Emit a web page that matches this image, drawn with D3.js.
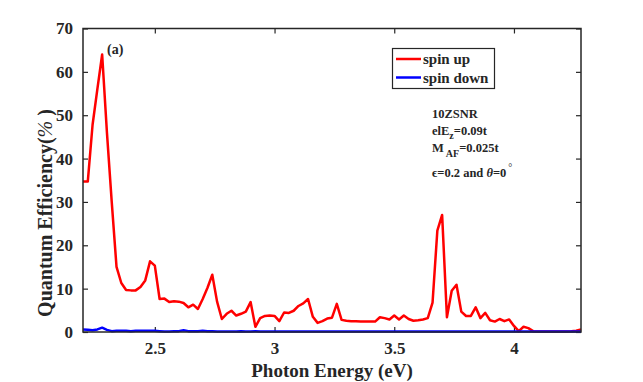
<!DOCTYPE html>
<html>
<head>
<meta charset="utf-8">
<script src="https://cdn.jsdelivr.net/npm/d3@7"></script>
<style>
  body { margin: 0; background: #fff; }
  text { font-family: "Liberation Serif", "Times New Roman", serif; font-weight: bold; fill: #262626; }
</style>
</head>
<body>
<script>
// photon energy grid (eV)
var energy = [2.20, 2.22, 2.24, 2.26, 2.28, 2.30, 2.32, 2.34, 2.36, 2.38,
  2.40, 2.42, 2.44, 2.46, 2.48, 2.50, 2.52, 2.54, 2.56, 2.58,
  2.60, 2.62, 2.64, 2.66, 2.68, 2.70, 2.72, 2.74, 2.76, 2.78,
  2.80, 2.82, 2.84, 2.86, 2.88, 2.90, 2.92, 2.94, 2.96, 2.98,
  3.00, 3.02, 3.04, 3.06, 3.08, 3.10, 3.12, 3.14, 3.16, 3.18,
  3.20, 3.22, 3.24, 3.26, 3.28, 3.30, 3.32, 3.34, 3.36, 3.38,
  3.40, 3.42, 3.44, 3.46, 3.48, 3.50, 3.52, 3.54, 3.56, 3.58,
  3.60, 3.62, 3.64, 3.66, 3.68, 3.70, 3.72, 3.74, 3.76, 3.78,
  3.80, 3.82, 3.84, 3.86, 3.88, 3.90, 3.92, 3.94, 3.96, 3.98,
  4.00, 4.02, 4.04, 4.06, 4.08, 4.10, 4.12, 4.14, 4.16, 4.18,
  4.20, 4.22, 4.24, 4.26, 4.28];

var spinUp = [34.7, 34.7, 47.8, 56, 64, 46, 30, 15, 11.3, 9.7,
  9.6, 9.6, 10.4, 11.9, 16.3, 15.3, 7.6, 7.7, 6.9, 7.1,
  7.0, 6.7, 5.7, 6.3, 5.3, 7.6, 10.2, 13.2, 7.0, 3.0,
  4.2, 4.9, 3.8, 4.2, 4.7, 6.9, 1.2, 3.2, 3.7, 3.8,
  3.7, 2.5, 4.5, 4.4, 4.9, 6.0, 6.6, 7.6, 3.5, 2.1,
  2.5, 3.1, 3.3, 6.5, 2.8, 2.6, 2.5, 2.5, 2.45, 2.4,
  2.4, 2.4, 3.4, 3.2, 2.9, 3.8, 2.9, 3.8, 3.0, 2.6,
  2.7, 2.9, 3.2, 6.8, 23.4, 27.0, 3.4, 9.5, 10.9, 4.7,
  3.7, 3.7, 5.7, 3.2, 4.4, 2.7, 2.4, 3.0, 2.5, 2.9,
  1.4, 0.2, 1.2, 0.9, 0.2, 0.1, 0.1, 0.1, 0.1, 0.1,
  0.1, 0.1, 0.15, 0.3, 0.6];

var spinDown = [0.6, 0.5, 0.4, 0.6, 1.0, 0.5, 0.2, 0.3, 0.3, 0.3,
  0.2, 0.3, 0.3, 0.3, 0.3, 0.3, 0.2, 0.1, 0.1, 0.2,
  0.2, 0.4, 0.2, 0.2, 0.2, 0.3, 0.2, 0.2, 0.1, 0.1,
  0.1, 0.1, 0.1, 0.2, 0.1, 0.1, 0.2, 0.1, 0.1, 0.1,
  0.1, 0.1, 0.1, 0.1, 0.1, 0.1, 0.1, 0.1, 0.1, 0.1,
  0.1, 0.1, 0.1, 0.1, 0.1, 0.1, 0.1, 0.1, 0.1, 0.1,
  0.1, 0.1, 0.1, 0.1, 0.1, 0.1, 0.1, 0.1, 0.1, 0.1,
  0.1, 0.1, 0.1, 0.1, 0.1, 0.1, 0.1, 0.1, 0.1, 0.1,
  0.1, 0.1, 0.1, 0.1, 0.1, 0.1, 0.1, 0.1, 0.1, 0.1,
  0.1, 0.1, 0.1, 0.1, 0.1, 0.1, 0.1, 0.1, 0.1, 0.1,
  0.1, 0.1, 0.1, 0.1, 0.1];

var xTicks = [2.5, 3, 3.5, 4];
var xTickLabels = ["2.5", "3", "3.5", "4"];
var yTicks = [0, 10, 20, 30, 40, 50, 60, 70];

var legendNames = ["spin up", "spin down"];
var legendColors = ["#ff0000", "#0000ff"];

var W = 643, H = 382;
var plotL = 83, plotR = 581, plotT = 28.5, plotB = 332;

var svg = d3.select("body").append("svg")
   .attr("width", W)
   .attr("height", H);

var x = d3.scaleLinear().domain([2.2, 4.28]).range([plotL, plotR]);
var y = d3.scaleLinear().domain([0, 70]).range([plotB, plotT]);

var axisColor = "#262626";

// axes (ticks point inwards, matlab style)
function styleAxis(g) {
  g.select(".domain").remove();
  g.selectAll(".tick line").attr("stroke", axisColor).attr("stroke-width", 1.2);
  g.selectAll(".tick text").style("font-size", "17px").attr("fill", axisColor);
}

svg.append("g")
  .attr("transform", "translate(0," + plotB + ")")
  .call(d3.axisBottom(x).tickValues(xTicks).tickSize(-5).tickPadding(10)
    .tickFormat(function(d, i) { return xTickLabels[i]; }))
  .call(styleAxis);

svg.append("g")
  .attr("transform", "translate(0," + plotT + ")")
  .call(d3.axisTop(x).tickValues(xTicks).tickSize(-5).tickFormat(""))
  .call(styleAxis);

svg.append("g")
  .attr("transform", "translate(" + plotL + ",0)")
  .call(d3.axisLeft(y).tickValues(yTicks).tickSize(-5).tickPadding(10))
  .call(styleAxis);

svg.append("g")
  .attr("transform", "translate(" + plotR + ",0)")
  .call(d3.axisRight(y).tickValues(yTicks).tickSize(-5).tickFormat(""))
  .call(styleAxis);

// curves
var upData = energy.map(function(e, i) { return [e, spinUp[i]]; });
var downData = energy.map(function(e, i) { return [e, spinDown[i]]; });

var line = d3.line()
  .x(function(d) { return x(d[0]); })
  .y(function(d) { return y(d[1]); });

svg.append("path")
  .datum(upData)
  .attr("d", line)
  .attr("fill", "none")
  .attr("stroke", legendColors[0])
  .attr("stroke-width", 2.5)
  .attr("stroke-linejoin", "round");

svg.append("path")
  .datum(downData)
  .attr("d", line)
  .attr("fill", "none")
  .attr("stroke", legendColors[1])
  .attr("stroke-width", 2.5)
  .attr("stroke-linejoin", "round");

// box
svg.append("rect")
  .attr("x", plotL).attr("y", plotT)
  .attr("width", plotR - plotL).attr("height", plotB - plotT)
  .attr("fill", "none")
  .attr("stroke", axisColor)
  .attr("stroke-width", 1.5);

// axis titles
svg.append("text")
  .attr("x", 332).attr("y", 377)
  .attr("text-anchor", "middle")
  .style("font-size", "19px")
  .text("Photon Energy (eV)");

var yt = svg.append("text")
  .attr("transform", "translate(52," + 213 + ") rotate(-90)")
  .attr("text-anchor", "middle")
  .style("font-size", "20px");
yt.append("tspan").text("Quantum Efficiency(");
yt.append("tspan").style("font-style", "italic").style("font-weight", "normal").text("%");
yt.append("tspan").text(" )");

// panel label
svg.append("text")
  .attr("x", 107).attr("y", 54)
  .style("font-size", "14px")
  .text("(a)");

// legend
var lg = svg.append("g");
lg.append("rect")
  .attr("x", 392.5).attr("y", 48.5)
  .attr("width", 102).attr("height", 40)
  .attr("fill", "#fff")
  .attr("stroke", axisColor)
  .attr("stroke-width", 1.2);

legendNames.forEach(function(name, i) {
  var ly = 59 + i * 18.5;
  lg.append("line")
    .attr("x1", 396).attr("x2", 421)
    .attr("y1", ly).attr("y2", ly)
    .attr("stroke", legendColors[i])
    .attr("stroke-width", 2.5);
  lg.append("text")
    .attr("x", 423).attr("y", ly + 5)
    .style("font-size", "15px")
    .attr("fill", "#000")
    .text(name);
});

// parameter notes
var notes = svg.append("g").style("font-size", "12.5px");
notes.append("text").attr("x", 432).attr("y", 118).attr("fill", "#000").text("10ZSNR");

var n2 = notes.append("text").attr("x", 432).attr("y", 135).attr("fill", "#000");
n2.append("tspan").text("elE");
n2.append("tspan").attr("dy", 4).style("font-size", "10px").text("z");
n2.append("tspan").attr("dy", -4).text("=0.09t");

var n3 = notes.append("text").attr("x", 432).attr("y", 152).attr("fill", "#000");
n3.append("tspan").text("M");
n3.append("tspan").attr("dy", 5).attr("dx", 2).style("font-size", "10px").text("AF");
n3.append("tspan").attr("dy", -5).text("=0.025t");

var n4 = notes.append("text").attr("x", 432).attr("y", 177).attr("fill", "#000");
n4.append("tspan").text("\u03f5=0.2 and ");
n4.append("tspan").style("font-style", "italic").text("\u03b8");
n4.append("tspan").text("=0");
n4.append("tspan").attr("dx", 2).attr("dy", -6).style("font-size", "10px").style("font-weight", "normal").text("\u00b0");
</script>
</body>
</html>
